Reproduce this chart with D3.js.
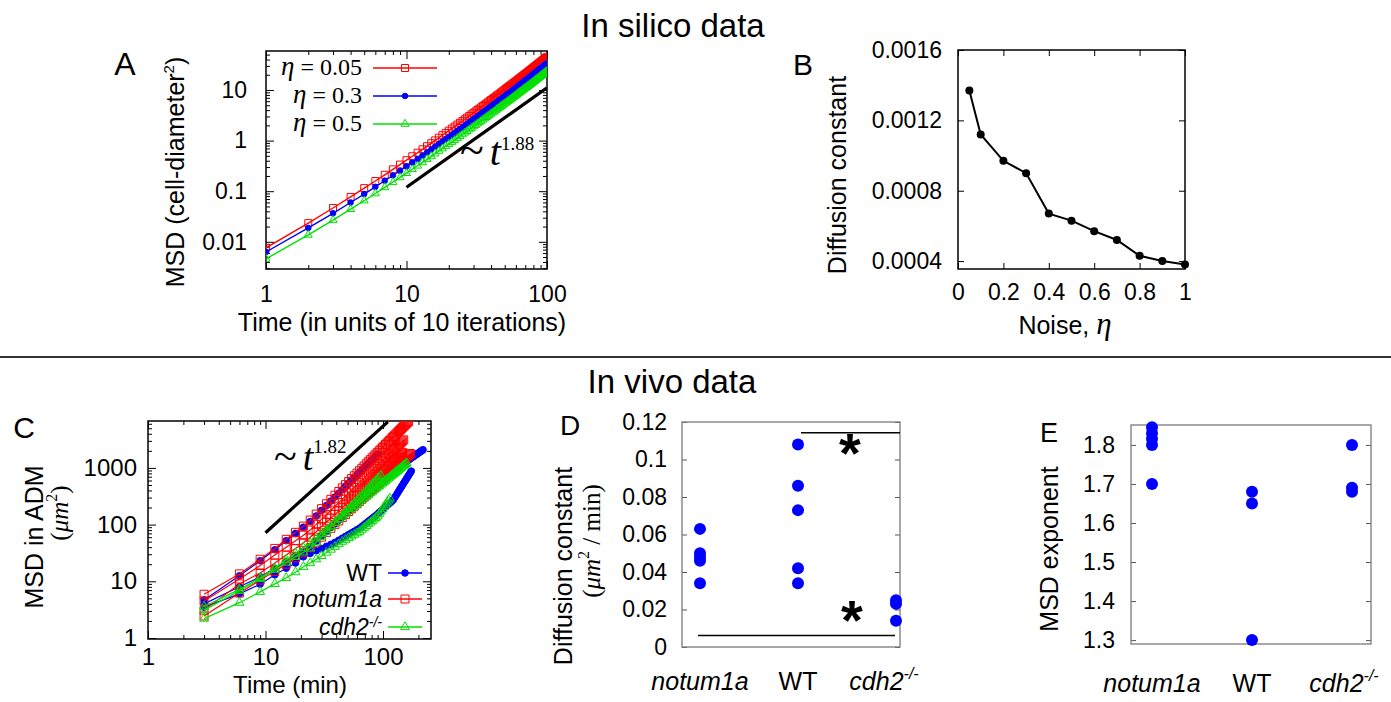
<!DOCTYPE html>
<html>
<head>
<meta charset="utf-8">
<script src="https://cdn.jsdelivr.net/npm/d3@7"></script>
<style>
  body { margin: 0; background: #fff; }
  text { font-family: "Liberation Sans", Arial, sans-serif; fill: #000; }
  .serif { font-family: "Liberation Serif", "Times New Roman", serif; }
</style>
</head>
<body>
<svg id="fig" width="1391" height="702"></svg>
<script>
// ---------- 数据 ----------
// A: MSD vs time (in units of 10 iterations), t = 1..100
const aTime = d3.range(1, 101);
const aRed = [0.0076,0.0234,0.0466,0.077,0.115,0.159,0.211,0.270,0.336,0.41,
  0.490,0.576,0.673,0.776,0.889,1.01,1.14,1.28,1.42,1.57,
  1.73,1.89,2.07,2.25,2.44,2.64,2.85,3.07,3.29,3.53,
  3.77,4.02,4.28,4.54,4.83,5.11,5.41,5.70,6.01,6.34,
  6.67,7.00,7.36,7.73,8.10,8.46,8.86,9.26,9.68,10.1,
  10.5,11.0,11.4,11.9,12.3,12.8,13.3,13.8,14.3,14.8,
  15.3,15.8,16.5,17.0,17.6,18.2,18.7,19.3,20.0,20.6,
  21.2,21.8,22.5,23.2,23.9,24.6,25.3,26.0,26.7,27.5,
  28.2,29.0,29.8,30.6,31.4,32.2,33.0,33.8,34.7,35.6,
  36.4,37.3,38.2,39.1,40.1,41.0,41.9,42.8,43.7,44.7];
const aBlue = [0.0063,0.0188,0.0366,0.0598,0.0879,0.122,0.161,0.205,0.254,0.309,
  0.369,0.433,0.505,0.582,0.667,0.756,0.853,0.955,1.06,1.17,
  1.29,1.41,1.55,1.68,1.83,1.97,2.13,2.29,2.46,2.64,
  2.81,3.01,3.20,3.39,3.61,3.81,4.04,4.26,4.49,4.73,
  4.99,5.23,5.50,5.77,6.05,6.32,6.62,6.92,7.23,7.55,
  7.87,8.18,8.52,8.87,9.20,9.55,9.93,10.3,10.7,11.0,
  11.4,11.9,12.3,12.7,13.2,13.6,14.0,14.5,14.9,15.4,
  15.9,16.4,16.9,17.4,17.9,18.4,19.0,19.5,20.0,20.6,
  21.2,21.8,22.4,23.0,23.6,24.2,24.9,25.5,26.1,26.8,
  27.6,28.3,28.9,29.6,30.3,31.0,31.7,32.4,33.1,33.8];
const aGreen = [0.0046,0.0137,0.0269,0.0441,0.0652,0.090,0.119,0.151,0.187,0.227,
  0.271,0.318,0.371,0.427,0.488,0.553,0.623,0.697,0.773,0.853,
  0.937,1.02,1.12,1.22,1.32,1.43,1.54,1.65,1.77,1.90,
  2.02,2.16,2.29,2.44,2.59,2.74,2.90,3.06,3.22,3.40,
  3.58,3.75,3.94,4.14,4.34,4.54,4.75,4.96,5.19,5.41,
  5.60,5.83,6.07,6.32,6.55,6.80,7.07,7.32,7.59,7.85,
  8.13,8.43,8.76,9.04,9.35,9.66,9.96,10.3,10.6,11.0,
  11.2,11.5,11.9,12.2,12.6,13.0,13.3,13.7,14.1,14.5,
  14.9,15.3,15.7,16.1,16.6,17.0,17.4,17.9,18.3,18.8,
  19.2,19.7,20.2,20.7,21.2,21.7,22.1,22.6,23.1,23.6];
const aLegend = ["0.05", "0.3", "0.5"];
const aGuide = [[10, 0.12], [100, 11]];

// B: diffusion constant vs noise
const bNoise = [0.05, 0.1, 0.2, 0.3, 0.4, 0.5, 0.6, 0.7, 0.8, 0.9, 1.0];
const bDiff = [0.00137, 0.00112, 0.00097, 0.00090, 0.00067, 0.00063, 0.00057, 0.00052, 0.00043, 0.00040, 0.00038];

// C: MSD in ADM, one sample every 3 min
const cStep = 3;
const cWT = [
  [4.7,12.5,23,36,52,70,90,113,142,178,217,260,307,357,413,472,536,603,675,750,830,915,1003,1096,1194,1295,1401,1511,1626,1745],
  [4.0,8,12,17,22,28,34,41,51,63,75,89,103,119,135,153,172,191,212,234,257,280,305,330,357,385,414,443,474,505,538,571,606,641,677,714,752,792,832,873,905,937,969,1002,1035,1069,1103,1137,1172,1207,1242,1277,1313,1349,1385,1422,1459,1496,1534,1571,1610,1648,1686,1725,1765,1804,1844,1884,1925,1965,2006,2047,2089],
  [3.5,6.0,8.9,13,17,21,27,31,34.5,38,41.4,44.8,48.5,53,57.6,62.2,66.9,71.6,76.4,81.3,86,92.7,99.7,106.7,114,121.5,129,137,145,154,164,174,184,195,206,217,228,240,251,263,279,303,327,353,380,409,439,470,503,538,574,612,652,694,737,782,829,878]
];
const cNotum = [
  [5.9,13.5,24.5,38,55,73,94,120,153,191,233,279,330,384,444,507,576,648,726,807,893,984,1079,1179,1284,1393,1507,1625,1748,1876,2008,2146,2286,2434,2585,2742,2901,3067,3237,3413,3593,3777,3966,4160,4359,4564,4772,4987,5206,5430,5658,5890,6128,6370,6619],
  [4.5,11,19,29,40,52,65,80,101,125,151,180,211,245,281,320,361,405,451,500,551,605,661,720,781,845,911,980,1051,1125,1201,1280,1361,1445,1531,1620,1711,1805,1901,2000,2101,2205,2311,2420,2531,2645,2761,2880,3001,3125],
  [3.1,9,14,21,29,38,48,60,75,92,110,130,151,174,198,224,251,280,310,342,375,410,446,484,523,563,605,649,693,739,787,836,886,938,991,1045,1101,1159,1217,1277,1339,1401,1465,1531,1597,1666,1735,1806,1878],
  [2.45,6.2,10.5,15,20,26,32,39,49,60,73,86,101,116,133,151,170,190,211,233,256,280,306,332,360,388,418,449,480,513,547,583,618,655,693,732,773,814,856,900,944,990,1036,1084,1132,1182,1232,1284,1336,1390,1445,1501,1558,1615,1674,1734,1795]
];
const cCdh2 = [
  [2.2,4.2,6.5,9.0,11.5,14.5,18,21,24.5,28,32.1,36.3,40.7,45.3,50,54,58.1,62.3,66.4,70.6,75,81.4,87.9,94.7,101.8,109,116,124,132,140,155,171,188,206,225,245,267,290],
  [3.6,7.2,11.5,17,24,31,39,47,57.6,69,81,94,108,123,139,155,172,190,208,227,247,268,289,311,334,357,381,406,431,456,483,510,538,566,595,625,655,685,717,749,781,815,848,882,917,952,988,1025,1062,1099,1137,1175,1215],
  [3.1,6.8,11,16,21.5,27,32.5,38,48.8,61,75,90,107,125,145,166,189,214,240,267,297,328,360,394,431,468,507,548,590,635,681,728]
];
const cGuide = [[10, 72], [110, 6500]];

// D / E: per-embryo values
const groups = ["notum1a", "WT", "cdh2"];
const dNotum = [0.063, 0.050, 0.048, 0.046, 0.034];
const dWT = [0.108, 0.086, 0.073, 0.042, 0.034];
const dCdh2 = [0.025, 0.023, 0.014];
const dYTicks = [0, 0.02, 0.04, 0.06, 0.08, 0.1, 0.12];
const eNotum = [1.845, 1.83, 1.815, 1.80, 1.70];
const eWT = [1.68, 1.65, 1.30];
const eCdh2 = [1.80, 1.69, 1.68];
const eYTicks = [1.3, 1.4, 1.5, 1.6, 1.7, 1.8];

const RED = "#ff0000", BLUE = "#0000ff", GREEN = "#00e000";
const svg = d3.select("#fig");

// ---------- 工具函数 ----------
function frame(g, x, y, o) {
  const [x0, x1] = x.range(), [y0, y1] = y.range();
  const specs = [
    [d3.axisBottom, x, `translate(0,${y0})`, true, true],
    [d3.axisTop, x, `translate(0,${y1})`, false, true],
    [d3.axisLeft, y, `translate(${x0},0)`, true, false],
    [d3.axisRight, y, `translate(${x1},0)`, false, false]
  ];
  specs.forEach(([axisFn, sc, tr, labelled, isX]) => {
    const maj = isX ? o.xMajor : o.yMajor;
    const min = isX ? o.xMinor : o.yMinor;
    if (min && min.length) {
      g.append("g").attr("transform", tr)
        .call(axisFn(sc).tickValues(min).tickFormat("").tickSize(-o.minor))
        .call(s => s.select(".domain").remove());
    }
    if (isX && o.noXTicks) return;
    const a = g.append("g").attr("transform", tr)
      .call(axisFn(sc).tickValues(maj)
        .tickFormat(labelled ? (isX ? o.xFmt : o.yFmt) : "")
        .tickSize(-o.major).tickPadding(isX ? o.xPad : o.yPad));
    a.select(".domain").remove();
    a.selectAll("text").attr("font-size", o.fs).attr("fill", "#000");
  });
  g.selectAll(".tick line").attr("stroke", o.tick || "#000").attr("stroke-width", 1);
  g.append("rect")
    .attr("x", x0).attr("y", y1).attr("width", x1 - x0).attr("height", y0 - y1)
    .attr("fill", "none").attr("stroke", o.stroke || "#000").attr("stroke-width", o.sw || 1.5);
}

function logMinor(sc) {
  return sc.ticks().filter(v => Math.abs(Math.log10(v) - Math.round(Math.log10(v))) > 1e-6);
}

function symbolPath(kind, size) {
  if (kind === "square") return d3.symbol(d3.symbolSquare, size * size)();
  if (kind === "circle") return d3.symbol(d3.symbolCircle, Math.PI * size * size / 4)();
  return d3.symbol(d3.symbolTriangle, Math.sqrt(3) / 4 * size * size)();
}

function series(g, x, y, pts, color, kind, size, lw) {
  g.append("path").datum(pts)
    .attr("d", d3.line().x(d => x(d[0])).y(d => y(d[1])))
    .attr("fill", "none").attr("stroke", color).attr("stroke-width", lw);
  const filled = kind === "circle";
  g.append("g").selectAll("path").data(pts).join("path")
    .attr("transform", d => `translate(${x(d[0])},${y(d[1])})`)
    .attr("d", symbolPath(kind, size))
    .attr("fill", filled ? color : "none")
    .attr("stroke", color).attr("stroke-width", 1);
}

function clipFor(id, x, y) {
  const [x0, x1] = x.range(), [y0, y1] = y.range();
  svg.append("clipPath").attr("id", id).append("rect")
    .attr("x", x0).attr("y", y1).attr("width", x1 - x0).attr("height", y0 - y1);
  return `url(#${id})`;
}

function text(x, y, str, size, opts = {}) {
  const t = svg.append("text").attr("x", x).attr("y", y).attr("font-size", size)
    .attr("text-anchor", opts.anchor || "middle");
  if (opts.rotate) t.attr("transform", `rotate(-90,${x},${y})`);
  if (str) t.text(str);
  return t;
}

// ---------- 标题 ----------
text(673, 37, "In silico data", 33);
svg.append("line").attr("x1", 0).attr("x2", 1391).attr("y1", 357).attr("y2", 357)
  .attr("stroke", "#333").attr("stroke-width", 2);
text(672, 393, "In vivo data", 33);

// ---------- A ----------
const ax = d3.scaleLog().domain([1, 100]).range([266, 547]);
const ay = d3.scaleLog().domain([0.0029, 59]).range([269, 51]);
const gA = svg.append("g");
frame(gA, ax, ay, {
  xMajor: [1, 10, 100], xMinor: logMinor(ax), yMajor: [0.01, 0.1, 1, 10], yMinor: logMinor(ay),
  xFmt: d3.format("~g"), yFmt: d3.format("~g"), fs: 23, xPad: 17, yPad: 19, major: 8, minor: 4
});
const plotA = gA.append("g").attr("clip-path", clipFor("clipA", ax, ay));
const aSets = [[aRed, RED, "square", 7], [aBlue, BLUE, "circle", 5.6], [aGreen, GREEN, "triangle", 8]];
aSets.forEach(([vals, col, kind, sz]) =>
  series(plotA, ax, ay, aTime.map((t, i) => [t, vals[i]]), col, kind, sz, 1.4));
plotA.append("path").datum(aGuide)
  .attr("d", d3.line().x(d => ax(d[0])).y(d => ay(d[1])))
  .attr("stroke", "#000").attr("stroke-width", 3.2).attr("fill", "none");
// legend
aSets.forEach(([vals, col, kind, sz], i) => {
  const yb = 75 + i * 28;
  const t = svg.append("text").attr("class", "serif").attr("x", 362).attr("y", yb)
    .attr("text-anchor", "end").attr("font-size", 24);
  t.append("tspan").attr("font-style", "italic").attr("font-size", 27).text("η");
  t.append("tspan").text(" = " + aLegend[i]);
  svg.append("line").attr("x1", 373).attr("x2", 437).attr("y1", yb - 7).attr("y2", yb - 7)
    .attr("stroke", col).attr("stroke-width", 1.4);
  svg.append("path").attr("transform", `translate(405,${yb - 7})`).attr("d", symbolPath(kind, sz))
    .attr("fill", kind === "circle" ? col : "none").attr("stroke", col);
});
{
  const t = svg.append("text").attr("class", "serif").attr("x", 460).attr("y", 165).attr("font-size", 44);
  t.append("tspan").text("~");
  t.append("tspan").attr("font-style", "italic").attr("font-size", 40).attr("dx", 6).text("t");
  t.append("tspan").attr("font-size", 19).attr("dy", -15).text("1.88");
}
text(125, 75, "A", 32);
{
  const t = text(184, 172, null, 25, { rotate: true });
  t.append("tspan").text("MSD (cell-diameter");
  t.append("tspan").attr("font-size", 15).attr("dy", -10).text("2");
  t.append("tspan").attr("dy", 10).text(")");
}
text(402, 331, "Time (in units of 10 iterations)", 25);

// ---------- B ----------
const bx = d3.scaleLinear().domain([0, 1]).range([958, 1185]);
const by = d3.scaleLinear().domain([0.000355, 0.0016]).range([269, 50]);
const gB = svg.append("g");
frame(gB, bx, by, {
  xMajor: [0, 0.2, 0.4, 0.6, 0.8, 1], yMajor: [0.0004, 0.0008, 0.0012, 0.0016],
  xFmt: d3.format("~g"), yFmt: d3.format("~g"), fs: 23, xPad: 15, yPad: 16, major: 6, minor: 0
});
gB.append("path").datum(bNoise.map((n, i) => [n, bDiff[i]]))
  .attr("d", d3.line().x(d => bx(d[0])).y(d => by(d[1])))
  .attr("fill", "none").attr("stroke", "#000").attr("stroke-width", 2);
gB.selectAll("circle").data(bNoise).join("circle")
  .attr("cx", d => bx(d)).attr("cy", (d, i) => by(bDiff[i])).attr("r", 4).attr("fill", "#000");
text(803, 75, "B", 30);
text(846, 175, "Diffusion constant", 25, { rotate: true });
{
  const t = text(1065, 334, null, 25);
  t.append("tspan").text("Noise, ");
  t.append("tspan").attr("class", "serif").attr("font-style", "italic")
    .attr("font-size", 31).text("η");
}

// ---------- C ----------
const cx = d3.scaleLog().domain([1, 256]).range([148, 431]);
const cy = d3.scaleLog().domain([0.96, 6720]).range([639, 421]);
const gC = svg.append("g");
frame(gC, cx, cy, {
  xMajor: [1, 10, 100], xMinor: logMinor(cx), yMajor: [1, 10, 100, 1000], yMinor: logMinor(cy),
  xFmt: d3.format("~g"), yFmt: d3.format("~g"), fs: 24, xPad: 9, yPad: 11, major: 8, minor: 4
});
const plotC = gC.append("g").attr("clip-path", clipFor("clipC", cx, cy));
const cSets = [[cWT, BLUE, "circle", 6.6], [cNotum, RED, "square", 8], [cCdh2, GREEN, "triangle", 9]];
cSets.forEach(([tracks, col, kind, sz]) => tracks.forEach(vals =>
  series(plotC, cx, cy, vals.map((v, i) => [cStep * (i + 1), v]), col, kind, sz, 1.2)));
plotC.append("path").datum(cGuide)
  .attr("d", d3.line().x(d => cx(d[0])).y(d => cy(d[1])))
  .attr("stroke", "#000").attr("stroke-width", 3.2).attr("fill", "none");
{
  const t = svg.append("text").attr("class", "serif").attr("x", 274).attr("y", 470).attr("font-size", 42);
  t.append("tspan").text("~");
  t.append("tspan").attr("font-style", "italic").attr("font-size", 38).attr("dx", 6).text("t");
  t.append("tspan").attr("font-size", 19).attr("dy", -17).text("1.82");
}
// legend
const cLegend = [["WT", false], ["notum1a", true], ["cdh2", true]];
cSets.forEach(([tracks, col, kind, sz], i) => {
  const yb = [581, 607, 635][i];
  const t = svg.append("text").attr("x", 382).attr("y", yb).attr("text-anchor", "end").attr("font-size", 23);
  t.append("tspan").attr("font-style", cLegend[i][1] ? "italic" : "normal").text(cLegend[i][0]);
  if (i === 2) t.append("tspan").attr("font-style", "italic").attr("font-size", 14).attr("dy", -8).text("-/-");
  svg.append("line").attr("x1", 388).attr("x2", 422).attr("y1", yb - 8).attr("y2", yb - 8)
    .attr("stroke", col).attr("stroke-width", 1.3);
  svg.append("path").attr("transform", `translate(405,${yb - 8})`).attr("d", symbolPath(kind, sz))
    .attr("fill", kind === "circle" ? col : "none").attr("stroke", col);
});
text(24, 438, "C", 30);
text(43, 537, "MSD in ADM", 25, { rotate: true });
{
  const t = text(68, 513, null, 25, { rotate: true }).attr("class", "serif");
  t.append("tspan").text("(");
  t.append("tspan").attr("font-style", "italic").text("μm");
  t.append("tspan").attr("font-size", 16).attr("dy", -11).text("2");
  t.append("tspan").attr("dy", 11).text(")");
}
text(290, 693, "Time (min)", 24);

// ---------- D / E 通用 ----------
function catLabels(x, yb, dxLast) {
  groups.forEach((gname, i) => {
    const t = text(x(gname) + (i === 2 ? dxLast : 0), yb, null, 25);
    if (gname === "WT") t.text("WT");
    else if (gname === "notum1a") t.append("tspan").attr("font-style", "italic").text("notum1a");
    else {
      t.append("tspan").attr("font-style", "italic").text("cdh2");
      t.append("tspan").attr("font-style", "italic").attr("font-size", 16).attr("dy", -11).text("-/-");
    }
  });
}

// ---------- D ----------
const dx = d3.scalePoint().domain(groups).range([700, 896]);
const dy = d3.scaleLinear().domain([0, 0.12]).range([647, 422]);
const gD = svg.append("g");
const dSets = [["notum1a", dNotum], ["WT", dWT], ["cdh2", dCdh2]];
const dFrameX = d3.scaleLinear().domain([0, 1]).range([682, 900]);
frame(gD, dFrameX, dy, {
  xMajor: [], yMajor: dYTicks, noXTicks: true,
  xFmt: "", yFmt: d3.format("~g"), fs: 23, xPad: 0, yPad: 15, major: 5, minor: 0,
  stroke: "#7a7a7a", tick: "#555", sw: 1.3
});
dSets.forEach(([gname, vals]) =>
  gD.append("g").selectAll("circle").data(vals).join("circle")
    .attr("cx", dx(gname)).attr("cy", d => dy(d)).attr("r", 6).attr("fill", BLUE));
// significance bars
const dSig = [["WT", 0.1143, 801, 900], ["notum1a", 0.0062, 698, 895]];
dSig.forEach(([g0, v, x0, x1]) =>
  gD.append("line").attr("x1", x0).attr("x2", x1).attr("y1", dy(v)).attr("y2", dy(v))
    .attr("stroke", "#000").attr("stroke-width", 1.5));
text(850, 472, "*", 56).attr("font-weight", "bold");
text(852, 639, "*", 56).attr("font-weight", "bold");
text(570, 435, "D", 28);
text(572, 566, "Diffusion constant", 25, { rotate: true });
{
  const t = text(600, 541, null, 25, { rotate: true }).attr("class", "serif");
  t.append("tspan").text("(");
  t.append("tspan").attr("font-style", "italic").text("μm");
  t.append("tspan").attr("font-size", 16).attr("dy", -11).text("2");
  t.append("tspan").attr("dy", 11).text(" / min)");
}
catLabels(dx, 690, -12);

// ---------- E ----------
const ex = d3.scalePoint().domain(groups).range([1152, 1352]);
const ey = d3.scaleLinear().domain([1.29, 1.851]).range([644, 425]);
const gE = svg.append("g");
const eFrameX = d3.scaleLinear().domain([0, 1]).range([1131, 1371]);
frame(gE, eFrameX, ey, {
  xMajor: [], yMajor: eYTicks, noXTicks: true,
  xFmt: "", yFmt: d3.format("~g"), fs: 23, xPad: 0, yPad: 16, major: 5, minor: 0,
  stroke: "#7a7a7a", tick: "#555", sw: 1.3
});
[["notum1a", eNotum], ["WT", eWT], ["cdh2", eCdh2]].forEach(([gname, vals]) =>
  gE.append("g").selectAll("circle").data(vals).join("circle")
    .attr("cx", ex(gname)).attr("cy", d => ey(d)).attr("r", 6).attr("fill", BLUE));
text(1049, 442, "E", 27);
text(1058, 549, "MSD exponent", 25, { rotate: true });
catLabels(ex, 692, -8);
</script>
</body>
</html>
